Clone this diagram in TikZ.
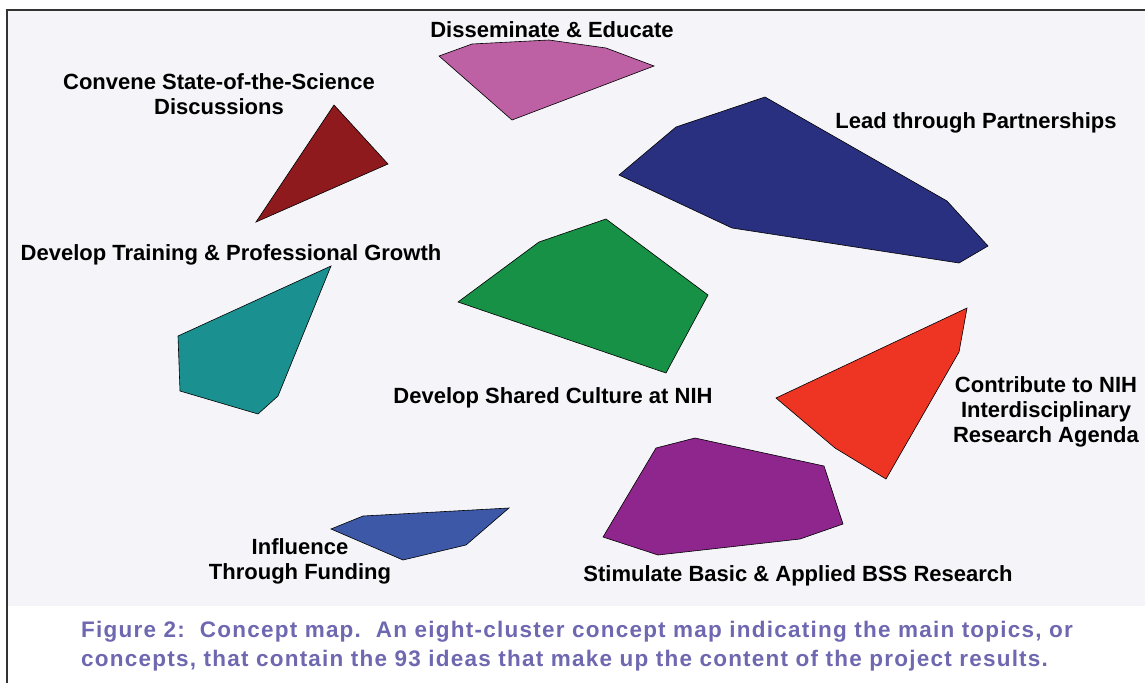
\documentclass[tikz,border=0pt]{standalone}
\usepackage{fontspec}
\setmainfont{Liberation Sans}
\definecolor{panel}{HTML}{F4F4F9}
\definecolor{frame}{HTML}{333333}
\definecolor{capt}{HTML}{6E68B0}
\definecolor{pinkc}{HTML}{BE60A4}
\definecolor{darkredc}{HTML}{8E1A1E}
\definecolor{navyc}{HTML}{29307F}
\definecolor{greenc}{HTML}{169145}
\definecolor{tealc}{HTML}{1A9190}
\definecolor{redc}{HTML}{EE3524}
\definecolor{purplec}{HTML}{8F268D}
\definecolor{bluec}{HTML}{3C58A7}
\begin{document}
\begin{tikzpicture}[x=1pt,y=-1pt,
                cluster/.style={draw=black,line width=0.6pt,line join=miter},
                lbl/.style={inner sep=0pt,align=center,font=\fontsize{22}{25}\selectfont\bfseries}]
                \useasboundingbox (0,0) rectangle (1145,683);
                \fill[panel] (7,10) rectangle (1145,606);
                \draw[frame,line width=1.5pt] (7,683) -- (7,10) -- (1145,10);
                % clusters
                \filldraw[cluster,fill=pinkc] (439,56) -- (472,44) -- (549,40) -- (606,48) -- (654,66) -- (512,120) -- cycle;
                \filldraw[cluster,fill=darkredc] (334,105) -- (388,164) -- (256,222) -- cycle;
                \filldraw[cluster,fill=navyc] (619,175) -- (676,127) -- (765,97) -- (947,201) -- (988,246) -- (959,263) -- (732,228) -- cycle;
                \filldraw[cluster,fill=greenc] (458,302) -- (539,242) -- (606,219) -- (708,295) -- (666,373) -- cycle;
                \filldraw[cluster,fill=tealc] (331,266) -- (278,396) -- (258,414) -- (180,391) -- (178,336) -- cycle;
                \filldraw[cluster,fill=redc] (967,308) -- (959,352) -- (886,479) -- (835,448) -- (776,398) -- cycle;
                \filldraw[cluster,fill=purplec] (656,448) -- (695,438) -- (824,466) -- (843,524) -- (800,539) -- (658,555) -- (603,537) -- cycle;
                \filldraw[cluster,fill=bluec] (331,529) -- (363,516) -- (509,508) -- (466,545) -- (403,560) -- cycle;
                % labels
                \node[lbl,anchor=base] (1) at (552,37) {Disseminate \& Educate};
                \node[lbl] (2) at (219,94) {Convene State-of-the-Science\\Discussions};
                \node[lbl,anchor=base] (3) at (976,128) {Lead through Partnerships};
                \node[lbl,anchor=base] (4) at (231,260) {Develop Training \& Professional Growth};
                \node[lbl,anchor=base] (5) at (553,403) {Develop Shared Culture at NIH};
                \node[lbl] (6) at (1046,412) {Contribute to NIH\\Interdisciplinary\\Research Agenda};
                \node[lbl] (7) at (300,561) {Influence\\Through Funding};
                \node[lbl,anchor=base] (8) at (798,581) {Stimulate Basic \& Applied BSS Research};
                % caption
                \node[inner sep=0pt,anchor=north west,align=left,text=capt,
                      font=\fontsize{22.5}{29}\selectfont\bfseries\addfontfeatures{LetterSpace=5.5}] (9) at (81,621)
                      {Figure 2:\ \ Concept map.\ \ An eight-cluster concept map indicating the main topics, or\\
                       concepts, that contain the 93 ideas that make up the content of the project results.};
\end{tikzpicture}
\end{document}
